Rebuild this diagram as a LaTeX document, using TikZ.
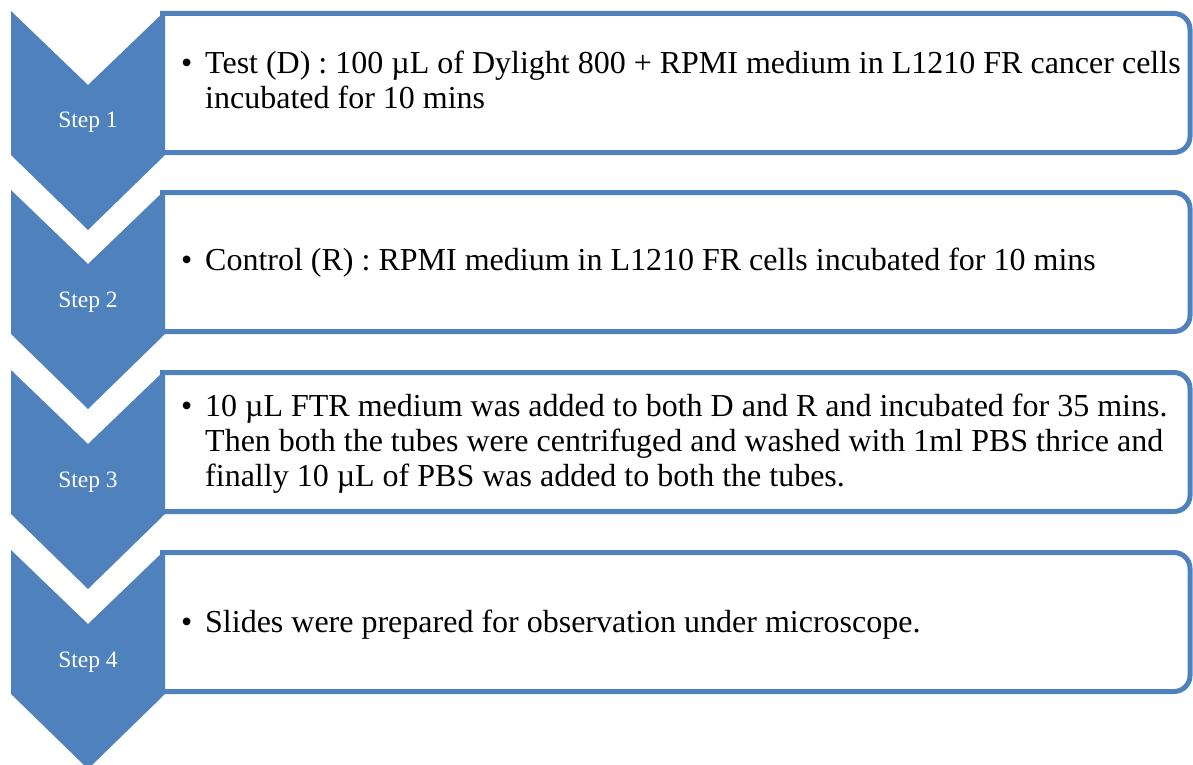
\documentclass[tikz,border=0pt]{standalone}
\usepackage{fontspec}
\setmainfont{Liberation Serif}
\usepackage{tikz}
\definecolor{stepblue}{HTML}{4F81BD}
\newcommand{\stepbul}{\makebox[24pt][l]{\textbullet}}
\newcommand{\stepind}{\hspace*{24pt}}

\begin{document}
\begin{tikzpicture}[x=1pt, y=-1pt,
  chevron/.style={fill=stepblue},
  boxline/.style={draw=stepblue, line width=5pt, rounded corners=16pt, fill=white},
  steplabel/.style={text=white, font=\fontsize{23.5}{27}\selectfont},
  steptext/.style={anchor=west, align=left, inner sep=0pt, font=\fontsize{32}{35}\selectfont}]
  \useasboundingbox (0,0) rectangle (1193,765);

  % Boxes and chevrons
  \foreach \y in {11,190,370,550} {
    \draw[boxline] (160,\y+2.5) -- (1190,\y+2.5) -- (1190,\y+141.5) -- (160,\y+141.5);
    \fill[chevron] (11,\y) -- (88,\y+74) -- (165,\y) -- (165,\y+144) -- (88,\y+219) -- (11,\y+144) -- cycle;
  }

  % Nodes
  \node[steplabel] (s1) at (88,122) {Step 1};
  \node[steplabel] (s2) at (88,302) {Step 2};
  \node[steplabel] (s3) at (88,482) {Step 3};
  \node[steplabel] (s4) at (88,662) {Step 4};

  \node[steptext] (t1) at (181,80) {\stepbul Test (D) : 100 µL of Dylight 800 + RPMI medium in L1210 FR cancer cells\\
    \stepind incubated for 10 mins};
  \node[steptext] (t2) at (181,263) {\stepbul Control (R) : RPMI medium in L1210 FR cells incubated for 10 mins};
  \node[steptext] (t3) at (181,444) {\stepbul 10 µL FTR medium was added to both D and R and incubated for 35 mins.\\
    \stepind Then both the tubes were centrifuged and washed with 1ml PBS thrice and\\
    \stepind finally 10 µL of PBS was added to both the tubes.};
  \node[steptext] (t4) at (181,625) {\stepbul Slides were prepared for observation under microscope.};
\end{tikzpicture}
\end{document}
